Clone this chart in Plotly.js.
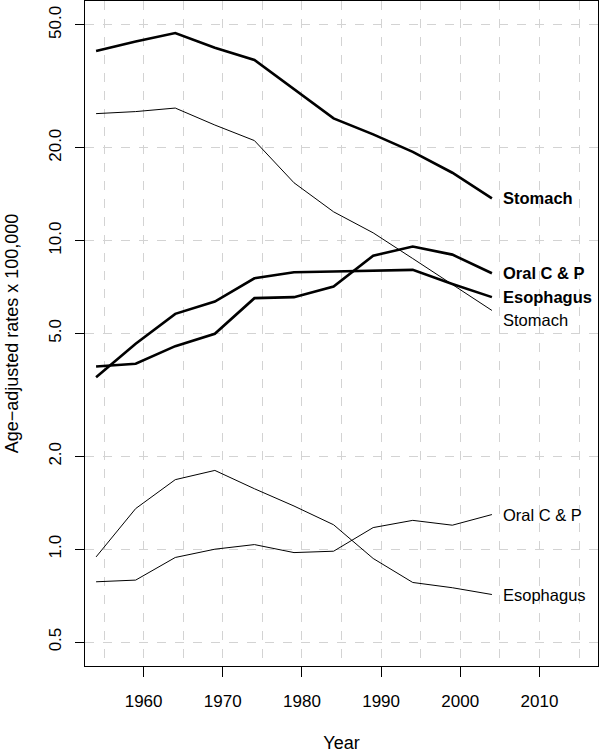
<!DOCTYPE html>
<html>
<head>
<meta charset="utf-8">
<script src="https://cdn.plot.ly/plotly-3.0.1.min.js"></script>
<style>html,body{margin:0;padding:0;background:#fff;}#chart{width:600px;height:753px;}</style>
</head>
<body>
<div id="chart"></div>
<script>
const years = [1954, 1959, 1964, 1969, 1974, 1979, 1984, 1989, 1994, 1999, 2004];

// Thick lines
const stomachThick   = [41.2, 44.2, 47.1, 42.2, 38.5, 31.0, 24.9, 22.1, 19.4, 16.6, 13.7];
const esophagusThick = [3.61, 4.63, 5.79, 6.35, 7.55, 7.90, 7.94, 7.98, 8.04, 7.24, 6.56];
const oralThick      = [3.91, 3.99, 4.55, 4.99, 6.51, 6.56, 7.10, 8.94, 9.57, 9.01, 7.84];

// Thin lines
const stomachThin    = [25.8, 26.2, 26.9, 23.7, 21.1, 15.4, 12.4, 10.6, 8.75, 7.2, 5.94];
const esophagusThin  = [0.944, 1.354, 1.68, 1.80, 1.57, 1.38, 1.20, 0.933, 0.780, 0.750, 0.713];
const oralThin       = [0.784, 0.794, 0.940, 1.00, 1.035, 0.975, 0.985, 1.175, 1.24, 1.196, 1.295];

const yTickVals = [0.5, 1, 2, 5, 10, 20, 50];
const yTickText = ["0.5", "1.0", "2.0", "5.0", "10.0", "20.0", "50.0"];
const xTickVals = [1960, 1970, 1980, 1990, 2000, 2010];

const seriesThick = [
  {name: "Stomach", y: stomachThick},
  {name: "Oral C & P", y: oralThick},
  {name: "Esophagus", y: esophagusThick}
];
const seriesThin = [
  {name: "Stomach", y: stomachThin, yshift: -10},
  {name: "Oral C & P", y: oralThin},
  {name: "Esophagus", y: esophagusThin}
];

const FONT = "Liberation Sans, Arial, Helvetica, sans-serif";
const traces = [];
const annotations = [];

seriesThick.forEach(s => {
  traces.push({x: years, y: s.y, type: "scatter", mode: "lines", name: s.name,
    line: {color: "#000", width: 2.6}, showlegend: false, hoverinfo: "skip"});
  annotations.push({x: years[years.length-1], y: Math.log10(s.y[s.y.length-1]),
    xref: "x", yref: "y", text: "<b>" + s.name + "</b>", showarrow: false,
    xanchor: "left", yanchor: "middle", xshift: 9, yshift: s.yshift || 0,
    font: {family: FONT, size: 16.5, color: "#000"}});
});
seriesThin.forEach(s => {
  traces.push({x: years, y: s.y, type: "scatter", mode: "lines", name: s.name,
    line: {color: "#000", width: 1}, showlegend: false, hoverinfo: "skip"});
  annotations.push({x: years[years.length-1], y: Math.log10(s.y[s.y.length-1]),
    xref: "x", yref: "y", text: s.name, showarrow: false,
    xanchor: "left", yanchor: "middle", xshift: 9, yshift: s.yshift || 0,
    font: {family: FONT, size: 16.5, color: "#000"}});
});

const layout = {
  width: 600, height: 753,
  margin: {l: 85, r: 2, t: 1, b: 87, pad: 0},
  paper_bgcolor: "#fff", plot_bgcolor: "#fff",
  font: {family: FONT, size: 17, color: "#000"},
  showlegend: false,
  xaxis: {
    range: [1952.6, 2017.4],
    tickvals: xTickVals,
    ticks: "outside", ticklen: 10, tickwidth: 1, tickcolor: "#000",
    ticklabelstandoff: 10,
    showline: true, linecolor: "#000", linewidth: 1, mirror: true,
    showgrid: true, gridcolor: "#d3d3d3", griddash: "dash", gridwidth: 1,
    minor: {dtick: 5, tick0: 1955, showgrid: true, gridcolor: "#d3d3d3", griddash: "dash", gridwidth: 1, ticks: ""},
    zeroline: false,
    tickfont: {family: FONT, size: 17, color: "#000"},
    title: {text: "Year", font: {family: FONT, size: 18, color: "#000"}, standoff: 26}
  },
  yaxis: {
    type: "log",
    range: [-0.3786, 1.7767],
    tickvals: yTickVals, ticktext: yTickText,
    tickangle: -90,
    ticks: "outside", ticklen: 9, tickwidth: 1, tickcolor: "#000",
    ticklabelstandoff: 7,
    showline: true, linecolor: "#000", linewidth: 1, mirror: true,
    showgrid: true, gridcolor: "#d3d3d3", griddash: "dash", gridwidth: 1,
    zeroline: false,
    tickfont: {family: FONT, size: 17, color: "#000"},
    title: {text: "Age−adjusted rates x 100,000", font: {family: FONT, size: 18, color: "#000"}, standoff: 22}
  },
  annotations: annotations
};

Plotly.newPlot("chart", traces, layout, {displayModeBar: false, staticPlot: true});
</script>
</body>
</html>
